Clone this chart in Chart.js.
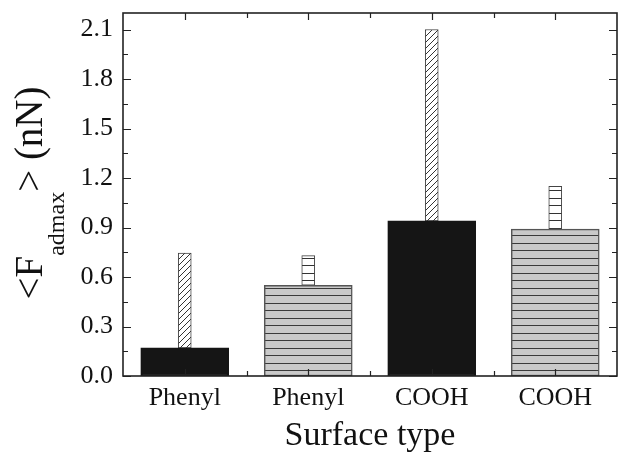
<!DOCTYPE html>
<html>
<head>
<meta charset="utf-8">
<script src="https://cdn.jsdelivr.net/npm/chart.js@4.4.0/dist/chart.umd.min.js"></script>
<style>
  html, body { margin: 0; padding: 0; background: #fff; }
</style>
</head>
<body>
<canvas id="chart" width="621" height="462"></canvas>
<script>
// data
const categories = ["Phenyl", "Phenyl", "COOH", "COOH"];
const meanForce = [0.17, 0.55, 0.94, 0.89];
const maxForce = [0.745, 0.73, 2.1, 1.15];
const yTicks = [0.0, 0.3, 0.6, 0.9, 1.2, 1.5, 1.8, 2.1];

const canvas = document.getElementById("chart");
const ctx = canvas.getContext("2d");

function makePattern(w, h, draw) {
  const c = document.createElement("canvas");
  c.width = w;
  c.height = h;
  draw(c.getContext("2d"), w, h);
  return ctx.createPattern(c, "repeat");
}

// grey with horizontal lines (big bars)
const greyLines = makePattern(4, 15, function (g, w, h) {
  g.fillStyle = "#c9c9c9";
  g.fillRect(0, 0, w, h);
  g.fillStyle = "#3a3a3a";
  g.fillRect(0, 3, w, 1);
  g.fillRect(0, 10, w, 1);
});
// white with horizontal lines (narrow bars)
const whiteLines = makePattern(4, 15, function (g, w, h) {
  g.fillStyle = "#ffffff";
  g.fillRect(0, 0, w, h);
  g.fillStyle = "#333";
  g.fillRect(0, 3, w, 1);
  g.fillRect(0, 10, w, 1);
});
// white with "/" hatching
const diagLines = makePattern(6, 6, function (g, w, h) {
  g.fillStyle = "#ffffff";
  g.fillRect(0, 0, w, h);
  g.strokeStyle = "#333";
  g.lineWidth = 1;
  g.beginPath();
  g.moveTo(0, h);
  g.lineTo(w, 0);
  g.moveTo(-1, 1);
  g.lineTo(1, -1);
  g.moveTo(w - 1, h + 1);
  g.lineTo(w + 1, h - 1);
  g.stroke();
});

const black = "#151515";

// frame and inward ticks
const frame = {
  id: "frame",
  afterDatasetsDraw(chart) {
    const c = chart.ctx;
    const a = chart.chartArea;
    const x = chart.scales.x;
    const y = chart.scales.y;
    c.save();
    c.strokeStyle = "#222";
    c.lineWidth = 1.2;
    c.beginPath();
    function tickY(v, len) {
      const p = Math.round(y.getPixelForValue(v)) + 0.5;
      c.moveTo(a.left, p); c.lineTo(a.left + len, p);
      c.moveTo(a.right, p); c.lineTo(a.right - len, p);
    }
    function tickX(v, len) {
      const p = Math.round(x.getPixelForValue(v)) + 0.5;
      c.moveTo(p, a.top); c.lineTo(p, a.top + len);
      c.moveTo(p, a.bottom); c.lineTo(p, a.bottom - len);
    }
    yTicks.forEach(function (v) {
      tickY(v, 8);
      if (v + 0.15 < y.max) tickY(v + 0.15, 5);
    });
    categories.forEach(function (cat, i) {
      tickX(i, 7);
      if (i > 0) tickX(i - 0.5, 5);
    });
    c.stroke();
    c.lineWidth = 1.6;
    c.strokeRect(a.left, a.top, a.right - a.left, a.bottom - a.top);
    c.restore();
  }
};

// y title with subscript
const yTitle = {
  id: "yTitle",
  afterDraw(chart) {
    const c = chart.ctx;
    const big = "39px 'Liberation Serif'";
    const small = "24px 'Liberation Serif'";
    const parts = [["<F", big, 0], ["admax", small, 22], ["> (nN)", big, 0]];
    c.save();
    let total = 0;
    parts.forEach(function (p) {
      c.font = p[1];
      p.push(c.measureText(p[0]).width);
      total += p[3];
    });
    c.translate(42, 193);
    c.rotate(-Math.PI / 2);
    c.fillStyle = "#111";
    c.textBaseline = "alphabetic";
    let u = -total / 2;
    parts.forEach(function (p) {
      c.font = p[1];
      c.fillText(p[0], u, p[2]);
      u += p[3];
    });
    c.restore();
  }
};

new Chart(ctx, {
  type: "bar",
  data: {
    labels: categories,
    datasets: [
      {
        label: "max",
        data: meanForce.map(function (m, i) { return [m, maxForce[i]]; }),
        backgroundColor: [diagLines, whiteLines, diagLines, whiteLines],
        borderColor: "#444",
        borderWidth: 1,
        borderSkipped: false,
        barThickness: 13,
        grouped: false,
        order: 2,
      },
      {
        label: "mean",
        data: meanForce,
        backgroundColor: [black, greyLines, black, greyLines],
        borderColor: [black, "#555", black, "#555"],
        borderWidth: 1.5,
        borderSkipped: false,
        barThickness: 88,
        grouped: false,
        order: 1,
      },
    ],
  },
  options: {
    responsive: false,
    devicePixelRatio: 1,
    animation: false,
    layout: { padding: { top: 13, right: 4, left: 0, bottom: 0 } },
    plugins: {
      legend: { display: false },
      tooltip: { enabled: false },
    },
    scales: {
      x: {
        type: "category",
        offset: true,
        grid: { display: false, drawTicks: false },
        border: { display: false },
        ticks: {
          color: "#111",
          padding: 7,
          maxRotation: 0,
          font: { family: "'Liberation Serif'", size: 26, lineHeight: 1.2 },
        },
        title: {
          display: true,
          text: "Surface type",
          color: "#111",
          padding: { top: 0, bottom: 6 },
          font: { family: "'Liberation Serif'", size: 34, lineHeight: 1.2 },
        },
        afterFit: function (s) {
          s.height = 86;
          s.paddingLeft = 0;
          s.paddingRight = 0;
        },
      },
      y: {
        min: 0,
        max: 2.2,
        grid: { display: false, drawTicks: false },
        border: { display: false },
        afterBuildTicks: function (s) {
          s.ticks = yTicks.map(function (v) { return { value: v }; });
        },
        ticks: {
          color: "#111",
          padding: 10,
          font: { family: "'Liberation Serif'", size: 26, lineHeight: 1.2 },
          callback: function (v) { return v.toFixed(1); },
        },
        afterFit: function (s) {
          s.width = 123;
          s.paddingTop = 0;
          s.paddingBottom = 0;
        },
      },
    },
  },
  plugins: [frame, yTitle],
});
</script>
</body>
</html>
